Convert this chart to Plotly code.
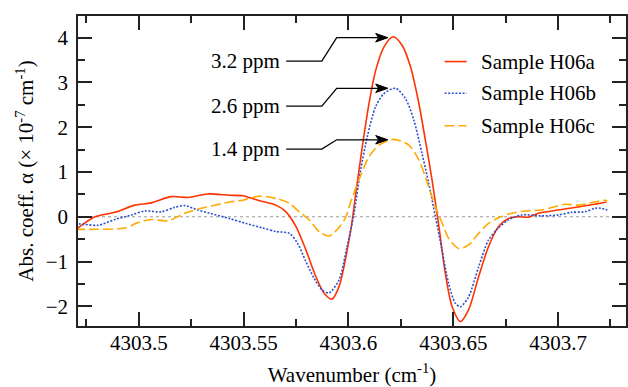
import plotly.graph_objects as go

# ---- data ----
x_a = [4303.4696, 4303.4791, 4303.4886, 4303.4981, 4303.5060, 4303.5155, 4303.5234,
       4303.5329, 4303.5433, 4303.5496, 4303.5575, 4303.5654, 4303.5702, 4303.5750,
       4303.5797, 4303.5845, 4303.5884, 4303.5921, 4303.5955, 4303.6011, 4303.6035,
       4303.6066, 4303.6098, 4303.6130, 4303.6169, 4303.6213, 4303.6256, 4303.6296,
       4303.6336, 4303.6367, 4303.6399, 4303.6431, 4303.6462, 4303.6494, 4303.6534,
       4303.6573, 4303.6621, 4303.6668, 4303.6716, 4303.6763, 4303.6811, 4303.6858,
       4303.6906, 4303.7001, 4303.7096, 4303.7175, 4303.7231]
y_a = [-0.30, 0.00, 0.10, 0.26, 0.31, 0.45, 0.43,
       0.51, 0.48, 0.47, 0.36, 0.26, 0.11, -0.22,
       -0.74, -1.34, -1.71, -1.84, -1.56, -0.30, 0.52,
       1.56, 2.53, 3.27, 3.79, 4.02, 3.83, 3.35,
       2.53, 1.71, 0.82, -0.20, -1.26, -2.00, -2.34,
       -2.08, -1.34, -0.67, -0.22, -0.04, 0.00, -0.01,
       0.08, 0.15, 0.22, 0.28, 0.33]

x_b = [4303.4696, 4303.4743, 4303.4807, 4303.4886, 4303.4965, 4303.5029, 4303.5108,
       4303.5171, 4303.5219, 4303.5282, 4303.5337, 4303.5433, 4303.5512, 4303.5591,
       4303.5654, 4303.5718, 4303.5757, 4303.5797, 4303.5837, 4303.5876, 4303.5908,
       4303.5955, 4303.5991, 4303.6027, 4303.6058, 4303.6090, 4303.6130, 4303.6169,
       4303.6225, 4303.6272, 4303.6312, 4303.6351, 4303.6383, 4303.6415, 4303.6446,
       4303.6478, 4303.6510, 4303.6534, 4303.6573, 4303.6621, 4303.6668, 4303.6716,
       4303.6763, 4303.6827, 4303.6922, 4303.7001, 4303.7064, 4303.7128, 4303.7175,
       4303.7207, 4303.7235]
y_b = [-0.15, -0.17, -0.19, -0.06, 0.04, 0.13, 0.11,
       0.21, 0.25, 0.15, 0.08, -0.04, -0.15, -0.25,
       -0.33, -0.37, -0.59, -1.00, -1.38, -1.64, -1.70,
       -1.41, -0.72, 0.08, 1.04, 1.79, 2.46, 2.75,
       2.87, 2.64, 2.16, 1.41, 0.75, 0.00, -0.74,
       -1.49, -1.93, -2.01, -1.79, -1.12, -0.52, -0.25,
       -0.07, 0.04, 0.02, 0.04, 0.10, 0.11, 0.19,
       0.19, 0.15]

x_c = [4303.4696, 4303.4791, 4303.4933, 4303.4997, 4303.5060, 4303.5139, 4303.5219,
       4303.5298, 4303.5346, 4303.5433, 4303.5496, 4303.5575, 4303.5654, 4303.5718,
       4303.5765, 4303.5813, 4303.5860, 4303.5908, 4303.5955, 4303.5988, 4303.6012,
       4303.6050, 4303.6098, 4303.6145, 4303.6217, 4303.6288, 4303.6336, 4303.6383,
       4303.6415, 4303.6454, 4303.6478, 4303.6526, 4303.6573, 4303.6621, 4303.6668,
       4303.6716, 4303.6779, 4303.6843, 4303.6922, 4303.7033, 4303.7096, 4303.7175,
       4303.7223, 4303.7235]
y_c = [-0.28, -0.28, -0.25, -0.13, -0.06, -0.09, 0.08,
       0.19, 0.24, 0.33, 0.37, 0.46, 0.41, 0.30,
       0.11, -0.07, -0.33, -0.43, -0.24, 0.00, 0.35,
       0.82, 1.34, 1.60, 1.73, 1.60, 1.27, 0.67,
       0.22, -0.22, -0.48, -0.71, -0.63, -0.37, -0.15,
       -0.02, 0.08, 0.13, 0.15, 0.28, 0.26, 0.33,
       0.37, 0.36]

names = ["Sample H06a", "Sample H06b", "Sample H06c"]
colors = ["#ff3300", "#2f4fd0", "#ffaa00"]
dashes = ["solid", "2px,1.6px", "10px,4px"]

x_ticks = [4303.5, 4303.55, 4303.6, 4303.65, 4303.7]
x_ticklabels = ["4303.5", "4303.55", "4303.6", "4303.65", "4303.7"]
y_ticks = [-2, -1, 0, 1, 2, 3, 4]
y_ticklabels = ["\u22122", "\u22121", "0", "1", "2", "3", "4"]

ppm_labels = ["3.2 ppm", "2.6 ppm", "1.4 ppm"]
ppm_peaks = [4.0, 2.87, 1.72]
ppm_text_y = [3.475, 2.471, 1.511]

FONT = "Liberation Serif"
FS = 21


def serif(s):
    return f'<span style="font-family:Liberation Serif">{s}</span>'


fig = go.Figure()
for xs, ys, nm, c, d in zip([x_a, x_b, x_c], [y_a, y_b, y_c], names, colors, dashes):
    fig.add_trace(go.Scatter(x=xs, y=ys, name=nm, mode="lines", showlegend=False,
                             line=dict(color=c, width=1.6, dash=d, shape="spline", smoothing=0.8)))

# zero reference line
fig.add_shape(type="line", xref="paper", x0=0, x1=1, yref="y", y0=0, y1=0,
              line=dict(color="#999999", width=1, dash="dot"), layer="below")

# legend drawn as line samples + text (paper coordinates)
leg_x0, leg_x1, leg_tx = 0.669, 0.709, 0.731
leg_y = [0.853, 0.751, 0.646]
for nm, c, d, ly in zip(names, colors, dashes, leg_y):
    fig.add_shape(type="line", xref="paper", yref="paper", x0=leg_x0, x1=leg_x1, y0=ly, y1=ly,
                  line=dict(color=c, width=1.6, dash=d))
    fig.add_annotation(xref="paper", yref="paper", x=leg_tx, y=ly, text=serif(nm), showarrow=False,
                       xanchor="left", yanchor="middle", font=dict(family=FONT, size=FS, color="black"))

# ppm labels with bent arrows (arrowheads drawn as small filled paths)
x_text = 4303.5683
x_l0, x_l1, x_l2, x_tip = 4303.5703, 4303.5873, 4303.5944, 4303.6188
head_len, head_notch, head_half = 0.0058, 0.0044, 0.095
for lab, pk, ty in zip(ppm_labels, ppm_peaks, ppm_text_y):
    fig.add_annotation(x=x_text, y=ty, text=serif(lab), showarrow=False, xanchor="right",
                       yanchor="middle", font=dict(family=FONT, size=FS, color="black"))
    fig.add_shape(type="path",
                  path=f"M {x_l0},{ty} L {x_l1},{ty} L {x_l2},{pk} L {x_tip - head_notch},{pk}",
                  line=dict(color="black", width=1.3))
    fig.add_shape(type="path",
                  path=(f"M {x_tip},{pk} L {x_tip - head_len},{pk + head_half} "
                        f"L {x_tip - head_notch},{pk} L {x_tip - head_len},{pk - head_half} Z"),
                  line=dict(color="black", width=1), fillcolor="black")

axis_common = dict(showline=True, linecolor="#222", linewidth=1.5, mirror="ticks",
                   ticks="inside", ticklen=14, tickwidth=1.5, tickcolor="#222",
                   showgrid=False, zeroline=False,
                   tickfont=dict(family=FONT, size=FS, color="black"))

fig.update_xaxes(range=[4303.4710, 4303.7324], tickvals=x_ticks,
                 ticktext=[serif(t) for t in x_ticklabels], ticklabelstandoff=-3,
                 minor=dict(ticks="inside", ticklen=7, tickwidth=1.5, tickcolor="#222", dtick=0.025, tick0=4303.5, showgrid=False),
                 title=dict(text=serif("Wavenumber (cm<sup>-1</sup>)"), font=dict(family=FONT, size=FS, color="black"), standoff=14),
                 **axis_common)
fig.update_yaxes(range=[-2.44, 4.485], tickvals=y_ticks,
                 ticktext=[serif(t) for t in y_ticklabels], ticklabelstandoff=4,
                 minor=dict(ticks="inside", ticklen=7, tickwidth=1.5, tickcolor="#222", dtick=0.5, tick0=0, showgrid=False),
                 title=dict(text=serif("Abs. coeff. α (× 10<sup>-7</sup> cm<sup>-1</sup>)"), font=dict(family=FONT, size=FS, color="black"), standoff=6),
                 **axis_common)

fig.update_layout(
    width=628, height=387,
    margin=dict(l=78, r=0, t=16, b=61),
    plot_bgcolor="white", paper_bgcolor="white",
    font=dict(family=FONT, size=FS, color="black"),
    showlegend=False,
)

fig.write_html("out.html")
